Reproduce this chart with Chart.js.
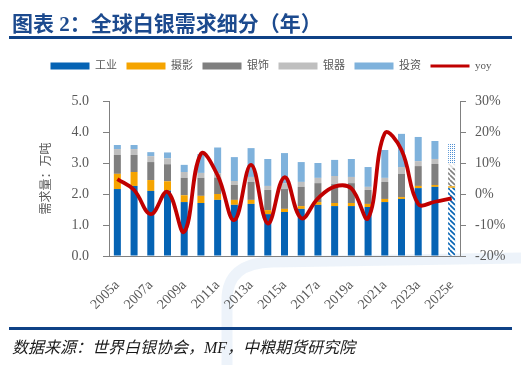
<!DOCTYPE html>
<html>
<head>
<meta charset="utf-8">
<script src="https://cdn.jsdelivr.net/npm/chart.js@4"></script>
<style>
  html, body { margin: 0; padding: 0; background: #fff; }
  body { width: 521px; height: 365px; position: relative; overflow: hidden; }
  #wrap { position: absolute; left: 0; top: 0; width: 521px; height: 365px; }
  .title { position: absolute; left: 12px; top: 7px; font: bold 21px "Liberation Serif", "Noto Sans CJK SC"; color: #1c4a8e; white-space: nowrap; }
  .rule { position: absolute; left: 9px; width: 503px; height: 3px; background: #0e4186; }
  .source { position: absolute; left: 12px; top: 334px; font: italic 16px "Liberation Serif", "Noto Sans CJK SC"; color: #1a1a1a; white-space: nowrap; }
</style>
</head>
<body>
<div id="wrap"><canvas id="chart" width="521" height="365"></canvas></div>
<div class="title">图表 2：全球白银需求细分（年）</div>
<div class="rule" style="top:36px"></div>
<div class="rule" style="top:327px"></div>
<div class="source">数据来源：世界白银协会，MF，中粮期货研究院</div>
<script>
// 年份
const years = ['2005a','2006a','2007a','2008a','2009a','2010a','2011a','2012a','2013a','2014a',
               '2015a','2016a','2017a','2018a','2019a','2020a','2021a','2022a','2023a','2024a','2025e'];

// 需求量（万吨）
const industry = [2.16, 2.26, 2.10, 2.11, 1.74, 1.71, 1.81, 1.65, 1.68, 1.35, 1.42, 1.52, 1.65, 1.61, 1.61, 1.58, 1.74, 1.84, 2.19, 2.23, 2.20];
const photo    = [0.49, 0.45, 0.35, 0.30, 0.22, 0.23, 0.19, 0.16, 0.13, 0.13, 0.10, 0.09, 0.09, 0.10, 0.10, 0.10, 0.10, 0.06, 0.07, 0.06, 0.05];
const jewelry  = [0.61, 0.55, 0.58, 0.55, 0.56, 0.58, 0.53, 0.48, 0.58, 0.65, 0.64, 0.62, 0.61, 0.61, 0.64, 0.45, 0.55, 0.75, 0.64, 0.68, 0.58];
const silverware = [0.19, 0.19, 0.19, 0.19, 0.19, 0.16, 0.14, 0.13, 0.16, 0.13, 0.19, 0.16, 0.17, 0.26, 0.20, 0.10, 0.13, 0.22, 0.16, 0.16, 0.15];
const invest   = [0.13, 0.13, 0.13, 0.19, 0.23, 0.61, 0.83, 0.77, 0.93, 0.87, 0.97, 0.64, 0.48, 0.52, 0.58, 0.64, 0.90, 1.07, 0.78, 0.58, 0.65];

// 同比（%）
const yoy = [4.8, 1.3, -6.5, 0.7, -12.2, 13.0, 6.0, -8.4, 9.4, -9.5, 5.4, -7.8, -1.4, 2.4, 1.8, -7.8, 19.6, 14.2, -3.2, -2.5, -1.4];

const leftTicks = [0, 1, 2, 3, 4, 5];
const rightTicks = [-20, -10, 0, 10, 20, 30];

const canvas = document.getElementById('chart');
const ctx = canvas.getContext('2d');

// 2025e 预测值用花纹填充
function hatch(color) {
    const c = document.createElement('canvas');
    c.width = 5; c.height = 5;
    const g = c.getContext('2d');
    g.fillStyle = '#fff';
    g.fillRect(0, 0, 5, 5);
    g.strokeStyle = color;
    g.lineWidth = 1.6;
    g.beginPath();
    for (let k = -5; k <= 5; k += 5) {
        g.moveTo(k, 0);
        g.lineTo(k + 5, 5);
    }
    g.stroke();
    return ctx.createPattern(c, 'repeat');
}
function dots(color) {
    const c = document.createElement('canvas');
    c.width = 2; c.height = 2;
    const g = c.getContext('2d');
    g.fillStyle = '#fff';
    g.fillRect(0, 0, 2, 2);
    g.fillStyle = color;
    g.fillRect(0, 0, 1, 1);
    return ctx.createPattern(c, 'repeat');
}
function withLast(color, last) {
    return years.map((y, i) => i === years.length - 1 ? last : color);
}

const colors = ['#0563b4', '#f5a400', '#7f7f7f', '#bfbfbf', '#7fb2dc'];
const red = '#c00000';
const serif = "'Liberation Serif', 'Noto Sans CJK SC'";

// 背景水印弧线
const watermark = {
    id: 'watermark',
    beforeDraw(chart) {
        const c = chart.ctx;
        c.save();
        c.strokeStyle = 'rgba(222,233,245,0.55)';
        c.lineWidth = 11;
        c.beginPath();
        c.moveTo(227, 370);
        c.lineTo(227, 300);
        c.quadraticCurveTo(227, 263, 272, 262);
        c.lineTo(521, 258);
        c.stroke();
        c.restore();
    }
};

// 图例与绘图区之间留出空白
const legendGap = {
    id: 'legendGap',
    beforeInit(chart) {
        const fit = chart.legend.fit;
        chart.legend.fit = function () {
            fit.bind(chart.legend)();
            this.height += 19.5;
        };
    }
};

new Chart(ctx, {
    type: 'bar',
    data: {
        labels: years,
        datasets: [
            { label: '工业', data: industry, backgroundColor: withLast(colors[0], hatch('#0563b4')), order: 1 },
            { label: '摄影', data: photo, backgroundColor: colors[1], order: 1 },
            { label: '银饰', data: jewelry, backgroundColor: withLast(colors[2], hatch('#7f7f7f')), order: 1 },
            { label: '银器', data: silverware, backgroundColor: withLast(colors[3], hatch('#e3e3e3')), order: 1 },
            { label: '投资', data: invest, backgroundColor: withLast(colors[4], dots('#4f8fd3')), order: 1 },
            {
                label: 'yoy', type: 'line', data: yoy, yAxisID: 'y1',
                borderColor: red, backgroundColor: red, borderWidth: 3.8,
                pointRadius: 0, tension: 0.4, order: 0
            }
        ]
    },
    options: {
        responsive: false,
        animation: false,
        devicePixelRatio: 1,
        layout: { padding: { left: 21, top: 51, right: 0, bottom: 0 } },
        datasets: {
            bar: { categoryPercentage: 1, barPercentage: 0.42, borderWidth: 0, stack: 'demand' }
        },
        plugins: {
            legend: {
                display: true,
                position: 'top',
                labels: {
                    usePointStyle: true,
                    pointStyleWidth: 39,
                    boxHeight: 7,
                    padding: 9.5,
                    color: '#595959',
                    font: { family: serif, size: 11 },
                    generateLabels(chart) {
                        return chart.data.datasets.map((ds, i) => ({
                            text: ds.label,
                            fillStyle: ds.type === 'line' ? red : colors[i],
                            strokeStyle: ds.type === 'line' ? red : colors[i],
                            lineWidth: ds.type === 'line' ? 3 : 0,
                            pointStyle: ds.type === 'line' ? 'line' : 'rect',
                            fontColor: '#595959',
                            hidden: false,
                            datasetIndex: i
                        }));
                    }
                }
            },
            tooltip: { enabled: false }
        },
        scales: {
            x: {
                stacked: true,
                grid: { display: false },
                border: { display: true, color: '#808080', width: 1 },
                ticks: {
                    autoSkip: false,
                    maxRotation: 45,
                    minRotation: 45,
                    padding: 13,
                    color: '#595959',
                    font: { family: serif, size: 14 },
                    callback: function (value, index) {
                        return index % 2 === 0 ? years[index] : '';
                    }
                },
                afterFit(scale) { scale.height = 109; }
            },
            y: {
                stacked: true,
                position: 'left',
                min: 0, max: 5,
                afterBuildTicks(scale) { scale.ticks = leftTicks.map(v => ({ value: v })); },
                grid: { drawOnChartArea: false, drawTicks: true, tickLength: 6, color: '#808080' },
                border: { display: true, color: '#808080', width: 1 },
                ticks: {
                    padding: 14,
                    color: '#595959',
                    font: { family: serif, size: 14 },
                    callback: v => v.toFixed(1)
                },
                title: {
                    display: true,
                    text: '需求量：万吨',
                    color: '#595959',
                    font: { family: serif, size: 12 },
                    padding: { top: 19, bottom: 0 }
                },
                afterFit(scale) { scale.width = 88; }
            },
            y1: {
                position: 'right',
                min: -20, max: 30,
                afterBuildTicks(scale) { scale.ticks = rightTicks.map(v => ({ value: v })); },
                grid: { drawOnChartArea: false, drawTicks: true, tickLength: 6, color: '#808080' },
                border: { display: true, color: '#808080', width: 1 },
                ticks: {
                    padding: 9,
                    color: '#595959',
                    font: { family: serif, size: 14 },
                    callback: v => v + '%'
                },
                afterFit(scale) { scale.width = 61; }
            }
        }
    },
    plugins: [watermark, legendGap]
});
</script>
</body>
</html>
